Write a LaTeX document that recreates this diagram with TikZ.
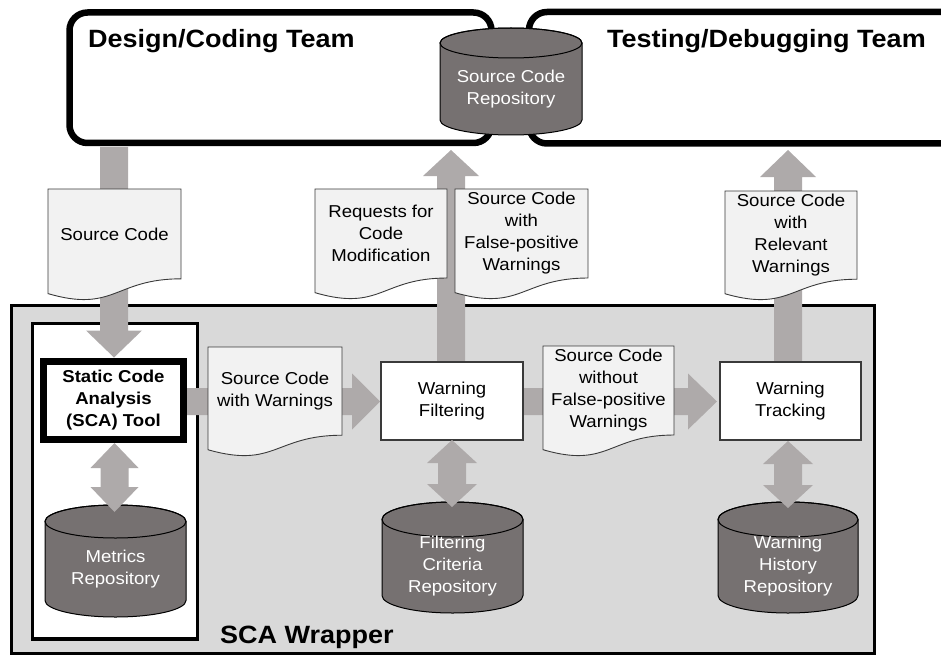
\documentclass[tikz,border=0pt]{standalone}
\usepackage{fontspec}
\setmainfont{Liberation Sans}[FakeStretch=1.08]
\usetikzlibrary{calc}
\definecolor{blkgray}{HTML}{AEAAAA}
\definecolor{cylfill}{HTML}{767171}
\definecolor{docfill}{HTML}{F2F2F2}
\definecolor{wrapfill}{HTML}{D9D9D9}
\definecolor{thinline}{HTML}{3A3A3A}
\newcommand\bodyfnt{\fontsize{17.2}{22}\selectfont}
\newcommand\titlefnt{\fontsize{25}{30}\selectfont\bfseries}
\tikzset{
  teambox/.style={draw=black, line width=6.5pt, rounded corners=18pt, fill=white, outer sep=0pt, inner sep=0pt, anchor=north west},
  titletext/.style={inner sep=0pt, font=\titlefnt, anchor=base west},
  wrapbox/.style={draw=black, line width=3pt, fill=wrapfill, outer sep=0pt, inner sep=0pt, anchor=north west},
  innerbox/.style={draw=black, line width=3.3pt, fill=white, outer sep=0pt, inner sep=0pt, anchor=north west},
  toolbox/.style={draw=black, line width=6.5pt, fill=white, outer sep=0pt, inner sep=0pt, align=center, font=\bodyfnt\bfseries},
  procbox/.style={draw=thinline, line width=1.2pt, fill=white, outer sep=0pt, inner sep=0pt, align=center, font=\bodyfnt},
  docline/.style={draw=thinline, line width=0.9pt, fill=docfill},
  doctext/.style={inner sep=0pt, align=center, font=\bodyfnt},
  cylline/.style={draw=black, line width=1pt, fill=cylfill},
  cyltext/.style={inner sep=0pt, align=center, font=\bodyfnt, text=white},
  blk/.style={fill=blkgray, draw=none}
}
% document shape: name, x1, y1, x2, h, text
\newcommand\docshape[6]{%
  \pgfmathsetmacro\dsMx{(#2+#4)/2}%
  \pgfmathsetmacro\dsYr{#3+0.802*#5}%
  \pgfmathsetmacro\dsYc{#3+1.1075*#5}%
  \pgfmathsetmacro\dsYl{#3+0.934*#5}%
  \pgfmathsetmacro\dsYt{#3+0.401*#5}%
  \draw[docline] (#2,#3) -- (#4,#3) -- (#4,\dsYr) .. controls (\dsMx,\dsYr) and (\dsMx,\dsYc) .. (#2,\dsYl) -- cycle;
  \node[doctext] (#1) at (\dsMx,\dsYt) {#6};}
% cylinder: name, x1, y1, x2, y2, ry, text
\newcommand\cylshape[7]{%
  \pgfmathsetmacro\csMx{(#2+#4)/2}%
  \pgfmathsetmacro\csRx{(#4-#2)/2}%
  \pgfmathsetmacro\csTop{#3+#6}%
  \pgfmathsetmacro\csBot{#5-#6}%
  \pgfmathsetmacro\csTy{(#3+2*#6+#5-#6)/2}%
  \draw[cylline] (#2,\csTop) -- (#2,\csBot) arc[start angle=180,end angle=360,x radius=\csRx pt,y radius=#6pt] -- (#4,\csTop) arc[start angle=0,end angle=180,x radius=\csRx pt,y radius=#6pt] -- cycle;
  \draw[cylline,fill=none] (\csMx,\csTop) ellipse[x radius=\csRx pt, y radius=#6pt];
  \node[cyltext] (#1) at (\csMx,\csTy) {#7};}
% block arrows (start coordinate, tip coordinate, head length, head half width)
\newcommand\blkdown[4]{\fill[blk] let \p1=(#1), \p2=(#2) in
  (\x1-14pt,\y1) -- (\x1+14pt,\y1) -- (\x1+14pt,\y2+#3) -- (\x1+#4,\y2+#3) -- (\x1,\y2) -- (\x1-#4,\y2+#3) -- (\x1-14pt,\y2+#3) -- cycle;}
\newcommand\blkup[4]{\fill[blk] let \p1=(#1), \p2=(#2) in
  (\x1-14pt,\y1) -- (\x1+14pt,\y1) -- (\x1+14pt,\y2-#3) -- (\x1+#4,\y2-#3) -- (\x1,\y2) -- (\x1-#4,\y2-#3) -- (\x1-14pt,\y2-#3) -- cycle;}
\newcommand\blkright[4]{\fill[blk] let \p1=(#1), \p2=(#2) in
  (\x1,\y1-13.5pt) -- (\x2-#3,\y1-13.5pt) -- (\x2-#3,\y1-#4) -- (\x2,\y1) -- (\x2-#3,\y1+#4) -- (\x2-#3,\y1+13.5pt) -- (\x1,\y1+13.5pt) -- cycle;}
\newcommand\blkdouble[4]{\fill[blk] let \p1=(#1), \p2=(#2) in
  (\x1,\y1) -- (\x1+#4,\y1-#3) -- (\x1+14pt,\y1-#3) -- (\x1+14pt,\y2+#3) -- (\x1+#4,\y2+#3) -- (\x1,\y2) -- (\x1-#4,\y2+#3) -- (\x1-14pt,\y2+#3) -- (\x1-14pt,\y1-#3) -- (\x1-#4,\y1-#3) -- cycle;}
\begin{document}
\begin{tikzpicture}[x=1pt,y=-1pt]
\useasboundingbox (0,0) rectangle (941,655);
% team boxes
\node[teambox, minimum width=422pt, minimum height=130.5pt] (design) at (69.5,12.5) {};
\node[teambox, minimum width=440pt, minimum height=131.5pt] (testing) at (529,12) {};
\node[titletext] (designlbl) at (88,48) {Design/Coding Team};
\node[titletext] (testinglbl) at (607,48) {Testing/Debugging Team};
\cylshape{repo}{440}{28}{582}{135}{15}{Source Code\\Repository}
% wrapper
\node[wrapbox, minimum width=863.5pt, minimum height=348.5pt] (wrapper) at (11,305) {};
\node[innerbox, minimum width=165pt, minimum height=315.5pt] (scaarea) at (32.5,323.5) {};
\node[inner sep=0pt, font=\titlefnt, anchor=base west] (wraplbl) at (220,643) {SCA Wrapper};
% arrow coordinates
\coordinate (scA) at (114,147);
\coordinate (scB) at (114,357.5);
\coordinate (wfA) at (451,362);
\coordinate (wfB) at (451,150);
\coordinate (wtA) at (788,362);
\coordinate (wtB) at (788,150);
\coordinate (h1A) at (187,401.5);
\coordinate (h1B) at (380,401.5);
\coordinate (h2A) at (523,401.5);
\coordinate (h2B) at (717,401.5);
\coordinate (d1A) at (114.5,443);
\coordinate (d1B) at (114.5,512);
\coordinate (d2A) at (452,440);
\coordinate (d2B) at (452,507);
\coordinate (d3A) at (788,441);
\coordinate (d3B) at (788,508);
% flow arrows
\blkdown{scA}{scB}{27pt}{28pt}
\blkup{wfA}{wfB}{26pt}{28pt}
\blkup{wtA}{wtB}{27pt}{28pt}
\blkright{h1A}{h1B}{28pt}{28pt}
\blkright{h2A}{h2B}{29pt}{28pt}
% documents
\docshape{srccode}{48}{189}{181}{112}{Source Code}
\docshape{requests}{315}{189}{447}{111}{Requests for\\Code\\Modification}
\docshape{fpwarn}{455}{189}{588}{111}{Source Code\\with\\False-positive\\Warnings}
\docshape{relwarn}{725}{191}{857}{110}{Source Code\\with\\Relevant\\Warnings}
\docshape{scwarn}{208}{347}{342}{110}{Source Code\\with Warnings}
\docshape{nofp}{543}{346}{674}{111}{Source Code\\without\\False-positive\\Warnings}
% process boxes
\node[toolbox, minimum width=140pt, minimum height=78pt] (sca) at (113.5,400.5) {Static Code\\Analysis\\(SCA) Tool};
\node[procbox, minimum width=142pt, minimum height=78pt] (wf) at (452,401) {Warning\\Filtering};
\node[procbox, minimum width=141pt, minimum height=78pt] (wt) at (790.5,401) {Warning\\Tracking};
% repositories
\cylshape{metrics}{45}{505}{186}{617}{16.5}{Metrics\\Repository}
\cylshape{filtcrit}{382}{502}{523}{613}{17.5}{Filtering\\Criteria\\Repository}
\cylshape{warnhist}{718}{502}{858}{613}{17.5}{Warning\\History\\Repository}
% double arrows
\blkdouble{d1A}{d1B}{25pt}{24pt}
\blkdouble{d2A}{d2B}{23pt}{25pt}
\blkdouble{d3A}{d3B}{23pt}{25pt}
\end{tikzpicture}
\end{document}
